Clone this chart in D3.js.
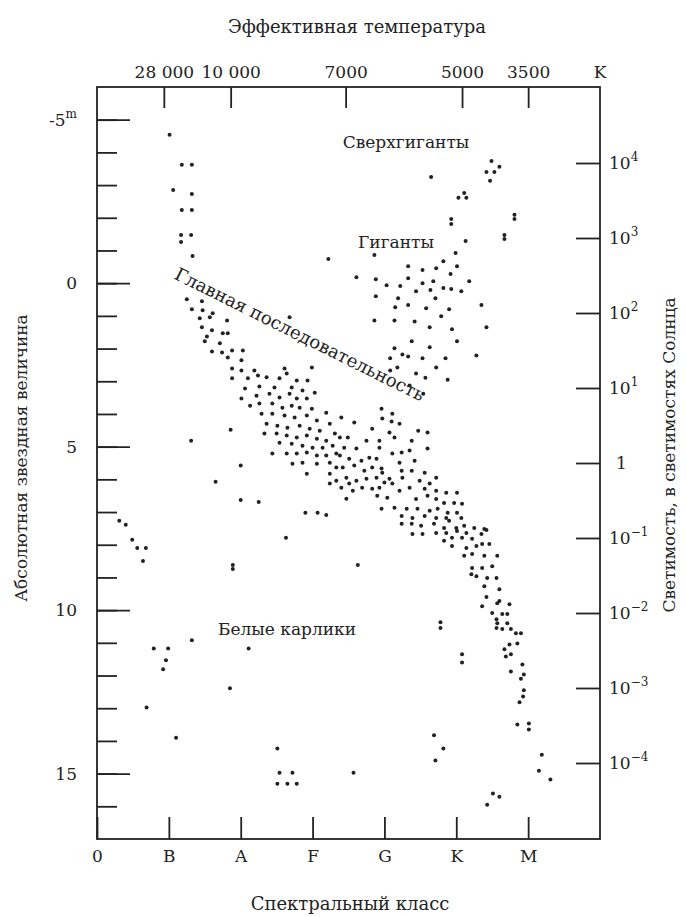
<!DOCTYPE html>
<html>
<head>
<meta charset="utf-8">
<script src="https://cdn.jsdelivr.net/npm/d3@7"></script>
<style>
  body { margin: 0; background: #fff; }
  svg text { font-family: "DejaVu Serif", "Liberation Serif", serif !important; fill: #222; }
</style>
</head>
<body>
<script>
// spectral class runs O=0, B=1 ... M=6 ; magnitude is absolute (m)
var classLabels = ["0", "B", "A", "F", "G", "K", "M"];
var classTicks = [0, 1, 2, 3, 4, 5, 6];
var tempLabels = ["28 000", "10 000", "7000", "5000", "3500"];
var tempPos = [0.93, 1.86, 3.46, 5.08, 6.0];
var magMinor = [-5,-4,-3,-2,-1,0,1,2,3,4,5,6,7,8,9,10,11,12,13,14,15,16];
var magMajor = [-5, 0, 5, 10, 15];
var lumTicks = [1e4, 1e3, 1e2, 1e1, 1, 1e-1, 1e-2, 1e-3, 1e-4];
var lumExp = ["4", "3", "2", "1", "", "\u22121", "\u22122", "\u22123", "\u22124"];

var supergiants = [
  [1.01,-4.54],[1.18,-3.62],[1.32,-3.62],[1.06,-2.85],[1.32,-2.73],[1.18,-2.24],[1.32,-2.24],
  [1.17,-1.47],[1.31,-1.47],[1.17,-1.26],[1.33,-0.83],
  [4.65,-3.25],[5.49,-3.74],[5.42,-3.40],[5.53,-3.40],[5.60,-3.56],[5.47,-3.13],[5.03,-2.61],
  [5.11,-2.76],[5.14,-2.61],[5.81,-2.09],[5.81,-1.96],[4.93,-1.96],[4.93,-1.81],[5.67,-1.47],
  [5.67,-1.35],[5.13,-1.29]
];

var giants = [
  [3.22,-0.74],[3.61,-0.18],[3.86,-0.86],[4.99,-0.92],[4.82,-0.67],[5.01,-0.52],[4.33,-0.52],
  [4.53,-0.40],[4.72,-0.46],[4.92,-0.28],[4.33,-0.15],[4.68,-0.06],[5.18,-0.06],[3.88,-0.12],
  [4.03,0.06],[4.22,0.09],[4.53,0.00],[4.82,0.15],[4.93,0.18],[5.07,0.25],[4.44,0.25],[4.64,0.21],
  [3.88,0.40],[4.19,0.46],[4.71,0.46],[4.15,0.74],[4.33,0.67],[4.58,0.77],[4.90,0.80],[5.35,0.67],
  [3.86,1.14],[4.14,1.14],[4.42,1.17],[4.79,1.01],[4.63,1.35],[4.94,1.41],[5.42,1.35],[4.38,1.78],
  [5.01,1.78],[4.14,1.99],[4.25,2.18],[4.33,2.24],[4.63,1.96],[4.08,2.30],[4.53,2.30],[4.85,2.30],
  [5.28,2.21],[4.18,2.58],[4.72,2.58],[4.08,2.67],[4.44,2.76],[4.57,2.89],[4.88,2.95],[4.35,3.13],
  [4.54,3.38],[2.68,1.04]
];

var msHot = [
  [1.25,0.49],[1.46,0.55],[1.32,0.80],[1.47,0.83],[1.61,0.92],[1.57,1.04],[1.43,1.07],[1.81,1.14],
  [1.46,1.35],[1.60,1.44],[1.75,1.53],[1.82,1.53],[1.53,1.63],[1.50,1.78],[1.71,1.84],[1.60,2.09],
  [1.74,2.12],[1.88,2.06],[2.03,2.06],[1.82,2.27],[2.01,2.36],[1.88,2.61],[2.01,2.67],[2.19,2.67],
  [2.61,2.61],[2.99,2.58],[1.88,2.91],[2.10,2.91],[2.24,2.82],[2.36,2.88],[2.54,2.91],[2.64,2.76],
  [2.78,2.98],[2.93,2.98],[2.06,3.22],[2.26,3.16],[2.47,3.19],[2.71,3.19],[2.86,3.28],[3.03,3.35],
  [2.22,3.44],[2.40,3.38],[2.54,3.50],[2.68,3.38],[2.78,3.53],[2.92,3.53],[2.01,3.53],[2.26,3.68],
  [2.44,3.68],[2.58,3.81],[2.71,3.75],[2.82,3.81],[2.99,3.84],[3.19,3.96],[2.13,3.75],[2.29,3.99],
  [2.44,3.99],[2.61,4.05],[2.75,4.11],[2.92,4.05],[3.06,4.20],[3.24,4.30],[2.36,4.30],[2.51,4.36],
  [2.65,4.42],[2.82,4.36],[2.96,4.45],[3.10,4.51],[3.31,4.60],[2.33,4.60],[2.50,4.60],[2.64,4.66],
  [2.78,4.72],[2.92,4.66],[3.06,4.76],[3.19,4.82],[2.54,4.88],[2.71,4.91],[2.86,4.97],[3.00,5.03],
  [3.14,5.03],[3.28,4.97],[2.44,5.21],[2.64,5.21],[2.78,5.21],[2.92,5.18],[3.06,5.27],[3.19,5.27],
  [3.33,5.21],[2.72,5.52],[2.86,5.49],[3.06,5.52],[3.24,5.49],[2.92,5.83],[3.24,5.83],[3.33,6.04],
  [3.24,6.13],[3.47,6.59]
];

var msCool = [
  [3.38,4.72],[3.49,4.72],[3.44,5.03],[3.61,5.06],[3.38,5.27],[3.51,5.37],[3.68,5.43],[3.79,5.34],
  [3.89,5.37],[3.42,5.64],[3.58,5.58],[3.72,5.74],[3.83,5.64],[3.96,5.67],[3.47,5.95],[3.61,6.04],
  [3.75,5.98],[3.89,5.95],[4.00,6.10],[4.11,6.13],[3.40,6.26],[3.56,6.35],[3.69,6.26],[3.83,6.29],
  [3.90,6.50],[4.04,6.56],[4.21,6.35],[4.35,6.26],[3.96,6.90],[3.33,5.64],
  [3.96,3.84],[4.11,3.99],[3.97,4.14],[4.10,4.23],[4.21,4.30],[3.83,4.45],[4.07,4.57],[4.14,4.72],
  [3.58,4.26],[3.40,4.11],[3.75,4.82],[3.93,4.82],[4.38,4.82],[4.47,4.51],[4.60,4.57],[4.60,5.06],
  [3.93,5.03],[4.24,5.18],[4.11,5.21],[4.35,5.12],[4.21,5.49],[4.42,5.43],[3.97,5.80],[4.24,5.74],
  [4.38,5.74],[4.56,5.80],[4.07,5.98],[4.25,5.95],[4.72,5.95],[4.49,6.04],[4.63,6.13],[3.51,6.13],
  [3.93,6.26],[4.56,6.29],[4.72,6.35],[4.86,6.41],[5.01,6.41],[4.44,6.60],[4.60,6.50],[4.72,6.60],
  [4.83,6.72],[4.97,6.72],[5.08,6.75],[4.14,6.87],[4.31,6.90],[4.46,6.90],[4.63,6.96],[4.74,6.90],
  [4.88,7.02],[5.01,7.02],[4.24,7.12],[4.39,7.18],[4.56,7.12],[4.72,7.18],[4.86,7.18],[5.07,7.18],
  [4.24,7.36],[4.38,7.36],[4.51,7.42],[4.69,7.36],[4.83,7.49],[5.00,7.49],[5.11,7.42],[5.25,7.49],
  [5.39,7.52],[4.39,7.67],[4.53,7.67],[4.72,7.64],[4.86,7.64],[5.01,7.58],[5.14,7.64],[5.35,7.67],
  [4.83,7.88],[4.94,7.79],[5.08,7.79],[5.22,7.82],[5.36,7.98],[5.46,7.98],[4.94,8.04],[5.14,8.10],
  [5.28,8.04],[5.11,8.34],[5.22,8.28],[5.39,8.34],[5.57,8.34],[5.22,8.71],[5.36,8.71],[5.50,8.66],
  [5.21,8.90],[5.28,8.96],[5.43,9.02],[5.56,9.02],[5.39,9.27],[5.60,9.36],[5.42,9.60],[5.36,9.88],
  [5.57,9.79],[5.74,9.82],[5.50,10.09],[5.64,10.12],[5.71,10.12],[5.56,10.28],[5.71,10.40],[5.56,10.55],
  [5.64,10.58],[5.76,10.58],[5.83,10.71],[5.90,10.71],[5.74,11.05],[5.85,11.02],[5.67,11.20],[5.69,11.42],
  [5.76,11.35],[5.92,11.66],[5.76,11.88],[5.90,12.10],[5.94,11.97],
  [4.90,7.27],[5.42,7.55],[5.60,9.72],[5.57,10.40],
  [5.94,12.45],[5.93,12.64],[5.88,12.82],[5.85,13.50],[6.01,13.47],[6.01,13.65],[6.19,14.42],
  [6.15,14.91],[6.31,15.18]
];

var scattered = [
  [1.86,4.48],[1.31,4.82],[2.00,5.58],[1.65,6.07],[2.00,6.63],[2.25,6.69],[2.90,7.02],[3.07,7.02],
  [3.19,7.09],[2.63,7.79],[1.89,8.62],[1.89,8.74],[3.63,8.62],[4.78,10.37],[4.78,10.55],[5.08,11.35],
  [5.08,11.60],[0.31,7.27],[0.40,7.39],[0.49,7.85],[0.56,8.10],[0.68,8.10],[0.64,8.50]
];

var dwarfs = [
  [0.79,11.17],[0.99,11.17],[0.96,11.53],[0.92,11.81],[1.32,10.92],[2.11,11.17],[1.85,12.39],
  [0.69,12.98],[1.10,13.90],[2.51,14.23],[2.54,14.97],[2.72,14.97],[2.51,15.31],[2.65,15.31],
  [2.78,15.31],[3.57,14.97],[4.69,13.83],[4.82,14.23],[4.71,14.60],[5.43,15.95],[5.51,15.61],
  [5.60,15.71]
];

var width = 687, height = 917;
var ink = "#222";
var fs = 17;

var svg = d3.select("body").append("svg")
    .attr("width", width)
    .attr("height", height)
    .attr("font-family", '"DejaVu Serif", "Liberation Serif", serif');

var x = d3.scaleLinear().domain([0, 7]).range([97, 600]);
var y = d3.scaleLinear().domain([-6, 17]).range([87, 839]);
var lum = d3.scaleLog().domain([1e4, 1e-4]).range([163, 763]);

function tidy(g) {
  g.attr("font-family", null).attr("font-size", null);
  g.select(".domain").remove();
  g.selectAll(".tick line").attr("stroke", ink).attr("stroke-width", 1.8);
  g.selectAll(".tick text").attr("font-size", fs).attr("fill", ink);
}

// frame
svg.append("rect")
  .attr("x", x(0)).attr("y", y(-6))
  .attr("width", x(7) - x(0)).attr("height", y(17) - y(-6))
  .attr("fill", "none").attr("stroke", ink).attr("stroke-width", 1.8);

// left: minor + major magnitude ticks
svg.append("g").attr("transform", "translate(" + x(0) + ",0)")
  .call(d3.axisLeft(y).tickValues(magMinor).tickSizeInner(-20).tickSizeOuter(0).tickFormat(""))
  .call(tidy);

var leftMajor = svg.append("g").attr("transform", "translate(" + x(0) + ",0)")
  .call(d3.axisLeft(y).tickValues(magMajor).tickSizeInner(-33).tickSizeOuter(0).tickPadding(20))
  .call(tidy);
leftMajor.selectAll(".tick text").filter(function(d){ return d === -5; })
  .text("-5").append("tspan").attr("dy", -8).attr("font-size", 12).text("m");

// right: luminosity
var rightAx = svg.append("g").attr("transform", "translate(" + x(7) + ",0)")
  .call(d3.axisRight(lum).tickValues(lumTicks).tickSizeInner(-24).tickSizeOuter(0).tickFormat(""))
  .call(tidy);
rightAx.selectAll(".tick").append("text")
  .attr("x", function(d, i){ return lumExp[i] === "" ? 16 : 9; })
  .attr("dy", "0.32em")
  .attr("font-size", fs)
  .each(function(d, i) {
    var t = d3.select(this);
    if (lumExp[i] === "") { t.text("1"); return; }
    t.text("10");
    t.append("tspan").attr("dy", -8).attr("font-size", 12).text(lumExp[i]);
  });

// top: effective temperature
svg.append("g").attr("transform", "translate(0," + y(-6) + ")")
  .call(d3.axisTop(x).tickValues(tempPos).tickSizeInner(-21).tickSizeOuter(0).tickPadding(9)
    .tickFormat(function(d, i){ return tempLabels[i]; }))
  .call(tidy);
svg.append("text").attr("x", x(7)).attr("y", y(-6) - 9)
  .attr("text-anchor", "middle").attr("font-size", fs).text("K");

// bottom: spectral class
svg.append("g").attr("transform", "translate(0," + y(17) + ")")
  .call(d3.axisBottom(x).tickValues(classTicks).tickSizeInner(-22).tickSizeOuter(0).tickPadding(11)
    .tickFormat(function(d, i){ return classLabels[i]; }))
  .call(tidy);

// titles
svg.append("text").attr("x", 357).attr("y", 33).attr("text-anchor", "middle")
  .attr("font-size", 18).text("Эффективная температура");
svg.append("text").attr("x", 350).attr("y", 910).attr("text-anchor", "middle")
  .attr("font-size", 18).text("Спектральный класс");
svg.append("text").attr("transform", "translate(27,458) rotate(-90)").attr("text-anchor", "middle")
  .attr("font-size", fs).text("Абсолютная звездная величина");
svg.append("text").attr("transform", "translate(675,455) rotate(-90)").attr("text-anchor", "middle")
  .attr("font-size", fs).text("Светимость, в светимостях Солнца");

// region labels
svg.append("text").attr("x", 406).attr("y", 148).attr("text-anchor", "middle")
  .attr("font-size", fs).text("Сверхгиганты");
svg.append("text").attr("x", 396).attr("y", 248).attr("text-anchor", "middle")
  .attr("font-size", fs).text("Гиганты");
svg.append("text").attr("x", 287).attr("y", 635).attr("text-anchor", "middle")
  .attr("font-size", fs).text("Белые карлики");
svg.append("text").attr("transform", "translate(297,340) rotate(26.5)").attr("text-anchor", "middle")
  .attr("font-size", 18).text("Главная последовательность");

// stars
var stars = [].concat(supergiants, giants, msHot, msCool, scattered, dwarfs);
svg.append("g").selectAll("circle")
  .data(stars)
  .join("circle")
  .attr("cx", function(d){ return x(d[0]); })
  .attr("cy", function(d){ return y(d[1]); })
  .attr("r", 2)
  .attr("fill", ink);
</script>
</body>
</html>
